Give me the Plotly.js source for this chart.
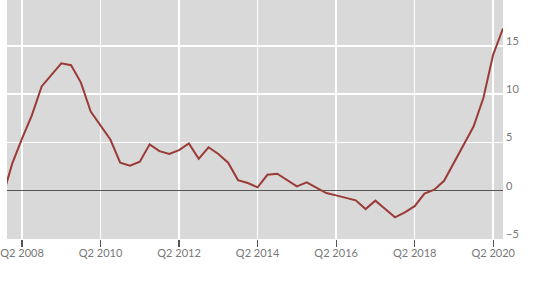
<!DOCTYPE html>
<html>
<head>
<meta charset="utf-8">
<script src="https://cdn.plot.ly/plotly-3.0.1.min.js"></script>
<style>
  html, body { margin: 0; padding: 0; background: #ffffff; }
  #chart { width: 550px; height: 295px; }
</style>
</head>
<body>
<div id="chart"></div>
<script>
// Quarters from Q4 2007 to Q3 2020
const quarters = [
  "Q4 2007",
  "Q1 2008","Q2 2008","Q3 2008","Q4 2008",
  "Q1 2009","Q2 2009","Q3 2009","Q4 2009",
  "Q1 2010","Q2 2010","Q3 2010","Q4 2010",
  "Q1 2011","Q2 2011","Q3 2011","Q4 2011",
  "Q1 2012","Q2 2012","Q3 2012","Q4 2012",
  "Q1 2013","Q2 2013","Q3 2013","Q4 2013",
  "Q1 2014","Q2 2014","Q3 2014","Q4 2014",
  "Q1 2015","Q2 2015","Q3 2015","Q4 2015",
  "Q1 2016","Q2 2016","Q3 2016","Q4 2016",
  "Q1 2017","Q2 2017","Q3 2017","Q4 2017",
  "Q1 2018","Q2 2018","Q3 2018","Q4 2018",
  "Q1 2019","Q2 2019","Q3 2019","Q4 2019",
  "Q1 2020","Q2 2020","Q3 2020"
];

const values = [
  -0.7,
  2.8, 5.4, 7.8, 10.8,
  12.0, 13.2, 13.0, 11.2,
  8.2, 6.7, 5.3, 2.9,
  2.6, 3.0, 4.8, 4.1,
  3.8, 4.2, 4.9, 3.3,
  4.5, 3.8, 2.9, 1.1,
  0.8, 0.35, 1.65, 1.76,
  1.07, 0.45, 0.86, 0.34,
  -0.24, -0.48, -0.76, -1.0,
  -1.9, -1.03, -1.9, -2.76,
  -2.24, -1.6, -0.3, 0.1,
  1.03, 2.9, 4.86, 6.65,
  9.6, 14.1, 16.8
];

const xTickLabels = ["Q2 2008","Q2 2010","Q2 2012","Q2 2014","Q2 2016","Q2 2018","Q2 2020"];
const yTickValues = [-5, 0, 5, 10, 15];

const xIdx = quarters.map((q, i) => i);
const xTickVals = xTickLabels.map(l => quarters.indexOf(l));

const trace = {
  x: xIdx,
  y: values,
  type: 'scatter',
  mode: 'lines',
  line: { color: '#9a3b37', width: 2 },
  hoverinfo: 'skip'
};

const layout = {
  width: 550,
  height: 295,
  margin: { l: 7, r: 47, t: 0, b: 56, pad: 0 },
  paper_bgcolor: '#ffffff',
  plot_bgcolor: '#d9d9d9',
  showlegend: false,
  font: { family: 'Lato, "Open Sans", sans-serif', size: 11, color: '#777777' },
  xaxis: {
    range: [0.47, 51],
    tickmode: 'array',
    tickvals: xTickVals,
    ticktext: xTickLabels,
    showgrid: true,
    gridcolor: '#ffffff',
    gridwidth: 1.5,
    zeroline: false,
    showline: false,
    ticks: 'outside',
    ticklen: 7,
    tickwidth: 1.2,
    tickcolor: '#555555',
    ticklabelstandoff: -3,
    tickfont: { size: 11, color: '#777777' }
  },
  yaxis: {
    range: [-5, 19.75],
    side: 'right',
    tickmode: 'array',
    tickvals: yTickValues,
    showgrid: true,
    gridcolor: '#ffffff',
    gridwidth: 1.5,
    zeroline: true,
    zerolinecolor: '#555555',
    zerolinewidth: 1.5,
    showline: false,
    ticks: '',
    ticklabelshift: -5,
    ticklabelstandoff: 2,
    tickfont: { size: 11, color: '#777777' }
  }
};

Plotly.newPlot('chart', [trace], layout, { staticPlot: true, displayModeBar: false });
</script>
</body>
</html>
